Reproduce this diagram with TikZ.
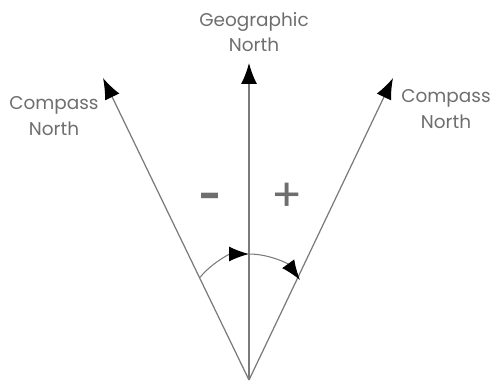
\documentclass[tikz,border=0pt]{standalone}
\usepackage{fontspec}
\setmainfont{Poppins}
\usetikzlibrary{positioning, arrows.meta, calc}
\definecolor{dLine}{HTML}{7A7A7A}
\definecolor{dText}{HTML}{6E6E6E}
\tikzset{
  ray/.style={draw=dLine, line width=0.7pt, -{Latex[length=0.42cm, width=0.32cm, color=black]}},
  turn/.style={draw=dLine, line width=0.6pt, -{Latex[length=0.4cm, width=0.3cm, color=black]}},
  lbl/.style={text=dText, font=\fontsize{10.5}{14.5}\selectfont, align=center, inner sep=0pt}
}
\begin{document}
\begin{tikzpicture}[x=0.02cm, y=0.02cm]
  \useasboundingbox (0,0) rectangle (493,383);
  \coordinate (origin) at (249,3);
  \coordinate (geoTip) at (249,320);
  \coordinate (magW) at (103,305);
  \coordinate (magE) at (393,305);
  \coordinate (pivot) at (249,66);
  \draw[ray] (origin) -- (geoTip);
  \draw[ray] (origin) -- (magW);
  \draw[ray] (origin) -- (magE);
  % declination arcs
  \coordinate (arcW) at ($(pivot)+(141:63)$);
  \draw[turn] (arcW) arc (141:90:63) coordinate (arcTop);
  \draw[turn] (arcTop) arc (90:36:63);
  \node[lbl] (geoLbl) at (254,351) {Geographic\\North};
  \node[lbl] (westLbl) at (54,267) {Compass\\North};
  \node[lbl] (eastLbl) at (446,274) {Compass\\North};
  \node[text=dText, font=\fontsize{22}{22}\selectfont\bfseries] (minus) at (211,182) {-};
  \node[text=dText, font=\fontsize{26}{26}\selectfont] (plus) at (287,186) {+};
\end{tikzpicture}
\end{document}
